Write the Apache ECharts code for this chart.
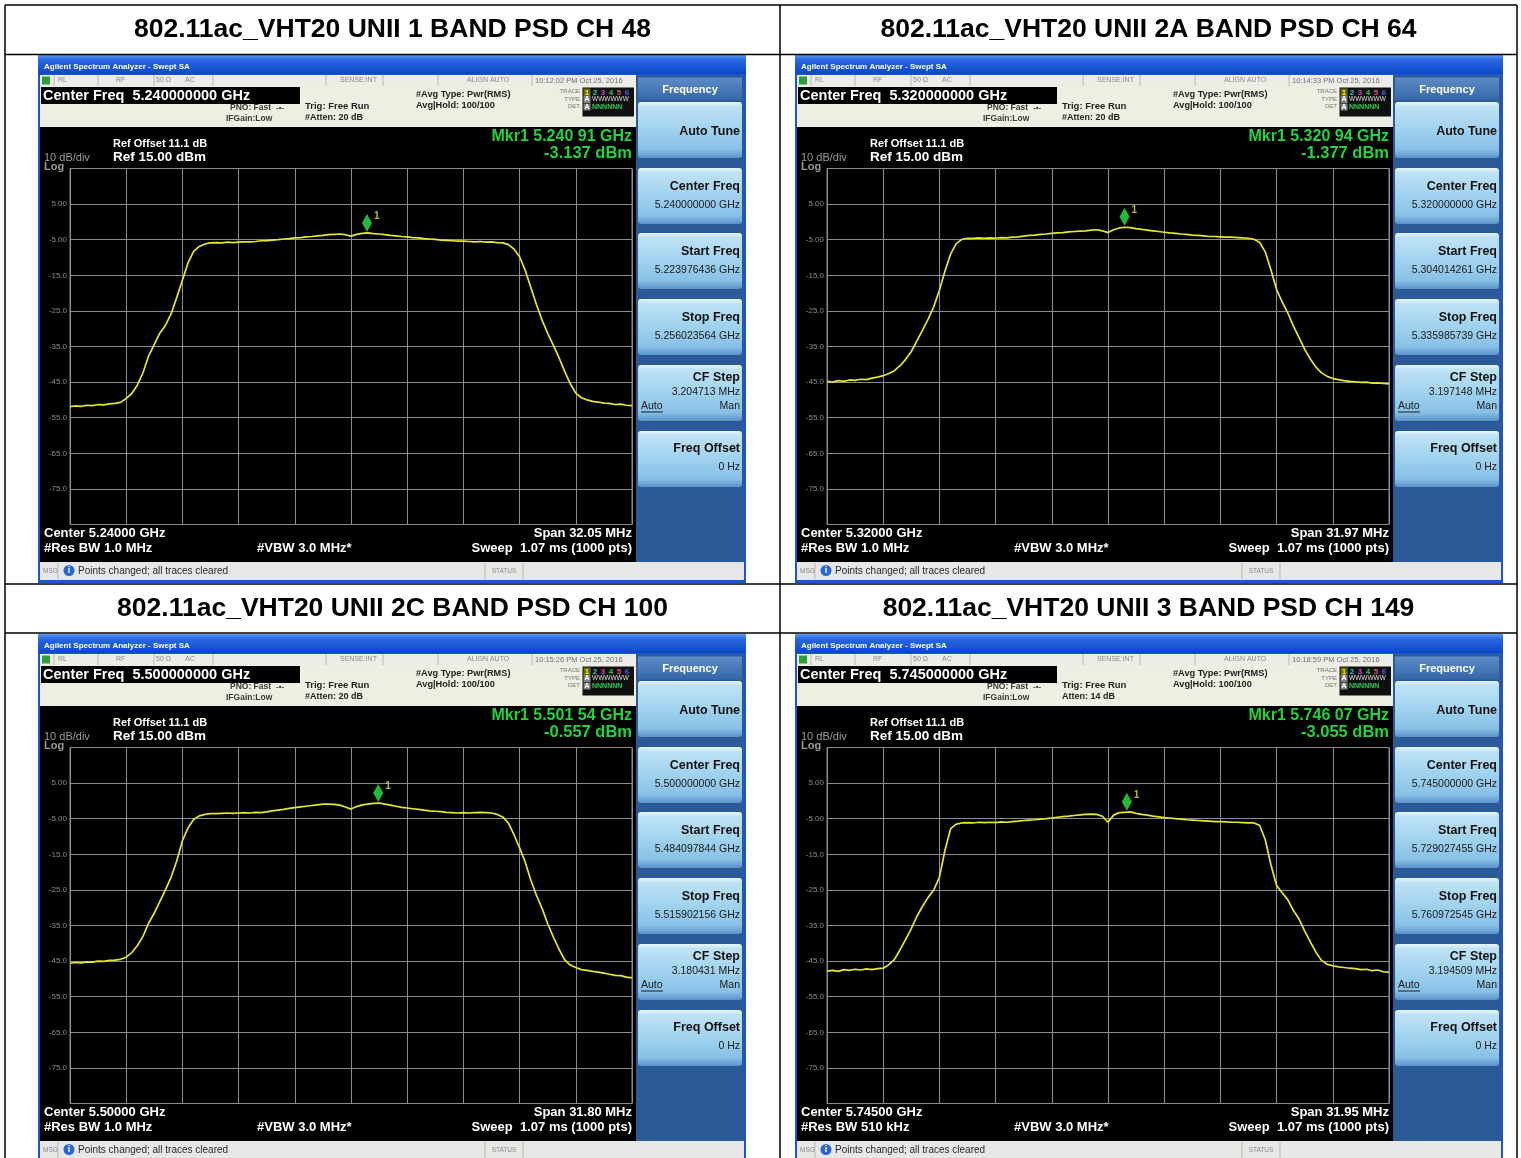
<!DOCTYPE html>
<html>
<head>
<meta charset="utf-8">
<title>802.11ac VHT20 PSD</title>
<script src="https://cdn.jsdelivr.net/npm/echarts@6/dist/echarts.min.js"></script>
<style>
  html, body { margin: 0; padding: 0; background: #ffffff; }
  #chart { width: 1521px; height: 1158px; }
</style>
</head>
<body>
<div id="chart"></div>
<script>
// 表格标题
var chartTitles = [
    '802.11ac_VHT20 UNII 1 BAND PSD CH 48',
    '802.11ac_VHT20 UNII 2A BAND PSD CH 64',
    '802.11ac_VHT20 UNII 2C BAND PSD CH 100',
    '802.11ac_VHT20 UNII 3 BAND PSD CH 149'
];
// 频谱仪设置
var centerFreq = ['5.240000000', '5.320000000', '5.500000000', '5.745000000'];
var startFreq = [5.223976436, 5.304014261, 5.484097844, 5.729027455];
var stopFreq = [5.256023564, 5.335985739, 5.515902156, 5.760972545];
var cfStep = ['3.204713 MHz', '3.197148 MHz', '3.180431 MHz', '3.194509 MHz'];
var spanText = ['32.05 MHz', '31.97 MHz', '31.80 MHz', '31.95 MHz'];
var resBw = ['1.0 MHz', '1.0 MHz', '1.0 MHz', '510 kHz'];
var attenText = ['#Atten: 20 dB', '#Atten: 20 dB', '#Atten: 20 dB', 'Atten: 14 dB'];
var timeStamp = ['10:12:02 PM Oct 25, 2016', '10:14:33 PM Oct 25, 2016', '10:15:26 PM Oct 25, 2016', '10:18:59 PM Oct 25, 2016'];
// Mkr1
var mkrFreq = [5.24091, 5.32094, 5.50154, 5.74607];
var mkrLevel = [-3.137, -1.377, -0.557, -3.055];
// 纵轴：Ref 15 dBm，10 dB/div
var refLevel = 15;
var dbPerDiv = 10;
var yDivs = 10;

// 迹线（从左到右等间隔 101 点，dBm）
var traceCh48 = [
    -51.9, -51.7, -51.8, -51.5, -51.6, -51.3, -51.4, -51.1, -51.0, -50.7,
    -49.6, -48.2, -45.8, -42.3, -37.6, -34.4, -31.2, -29.0, -25.8, -21.2,
    -16.4, -11.5, -8.3, -6.9, -6.2, -5.9, -5.8, -5.9, -5.7, -5.8,
    -5.7, -5.6, -5.6, -5.5, -5.3, -5.3, -5.1, -5.0, -4.8, -4.7,
    -4.5, -4.4, -4.2, -4.1, -3.9, -3.8, -3.6, -3.5, -3.4, -3.6,
    -4.0, -3.5, -3.2, -3.1, -3.3, -3.4, -3.6, -3.8, -3.9, -4.1,
    -4.2, -4.4, -4.5, -4.7, -4.8, -4.9, -5.1, -5.2, -5.3, -5.4,
    -5.4, -5.5, -5.6, -5.5, -5.7, -5.6, -5.8, -5.9, -6.4, -7.6,
    -9.8, -13.6, -18.4, -23.2, -27.6, -31.3, -34.6, -38.1, -41.9, -45.4,
    -48.1, -49.4, -50.0, -50.4, -50.6, -50.9, -51.0, -51.3, -51.2, -51.5, -51.6
];
var traceCh64 = [
    -44.8, -45.0, -44.6, -44.8, -44.4, -44.5, -44.2, -44.3, -43.9, -43.6,
    -43.2, -42.6, -41.8, -40.4, -38.6, -36.4, -33.4, -30.4, -27.3, -23.8,
    -19.2, -13.8, -9.0, -6.1, -4.9, -4.6, -4.6, -4.5, -4.6, -4.5,
    -4.6, -4.4, -4.5, -4.3, -4.2, -4.0, -3.8, -3.7, -3.5, -3.4,
    -3.2, -3.1, -3.0, -2.8, -2.7, -2.6, -2.5, -2.3, -2.2, -2.5,
    -3.0, -2.2, -1.7, -1.5, -1.6, -1.9, -2.1, -2.3, -2.5, -2.7,
    -2.9, -3.1, -3.2, -3.4, -3.5, -3.7, -3.8, -3.9, -4.1, -4.1,
    -4.2, -4.3, -4.3, -4.4, -4.5, -4.6, -4.9, -5.8, -8.5, -13.5,
    -19.0, -22.5, -25.6, -29.3, -32.5, -35.8, -38.5, -40.8, -42.4, -43.4,
    -44.0, -44.3, -44.6, -44.8, -44.9, -45.1, -45.0, -45.3, -45.2, -45.4, -45.5
];
var traceCh100 = [
    -45.6, -45.4, -45.5, -45.2, -45.3, -45.0, -45.1, -44.8, -44.7, -44.5,
    -43.9, -42.6, -40.6, -38.0, -34.3, -31.5, -28.2, -24.9, -21.4, -16.8,
    -11.2, -7.6, -5.2, -4.2, -3.8, -3.6, -3.6, -3.5, -3.4, -3.5,
    -3.4, -3.3, -3.4, -3.2, -3.3, -3.1, -2.8, -2.6, -2.4, -2.1,
    -1.9, -1.7, -1.5, -1.3, -1.1, -0.9, -0.9, -1.0, -1.2, -1.7,
    -2.3, -1.6, -1.1, -0.9, -0.7, -0.6, -0.9, -1.2, -1.5, -1.8,
    -2.0, -2.2, -2.4, -2.6, -2.8, -2.9, -3.0, -3.2, -3.3, -3.4,
    -3.3, -3.4, -3.3, -3.2, -3.3, -3.4, -3.8, -4.5, -6.2, -9.5,
    -13.2, -17.2, -22.3, -26.5, -30.2, -34.5, -38.2, -41.6, -44.6, -46.1,
    -46.8, -47.4, -47.6, -47.9, -48.1, -48.4, -48.7, -49.0, -49.1, -49.5, -49.7
];
var traceCh149 = [
    -47.8, -47.6, -47.9, -47.4, -47.6, -47.3, -47.5, -47.2, -47.4, -47.1,
    -47.0, -46.0, -44.5, -41.8, -38.9, -35.9, -32.4, -29.6, -27.1, -25.0,
    -21.5, -13.8, -7.8, -6.5, -6.2, -6.1, -6.2, -6.0, -6.1, -6.0,
    -6.1, -5.9, -6.0, -5.8, -5.7, -5.5, -5.4, -5.3, -5.1, -5.0,
    -4.8, -4.6, -4.4, -4.3, -4.1, -3.9, -3.8, -3.7, -3.8, -4.3,
    -6.0, -4.0, -3.3, -3.2, -3.1, -3.5, -3.8, -4.0, -4.3, -4.5,
    -4.7, -4.8, -5.0, -5.1, -5.3, -5.4, -5.5, -5.6, -5.7, -5.8,
    -5.8, -5.9, -6.0, -6.0, -6.1, -6.2, -6.2, -6.9, -11.0, -18.0,
    -23.8, -25.8, -27.8, -30.8, -33.2, -36.6, -39.6, -42.5, -44.8, -45.9,
    -46.3, -46.6, -46.8, -47.0, -47.1, -47.4, -47.3, -47.7, -47.5, -48.0, -48.1
];
var traces = [traceCh48, traceCh64, traceCh100, traceCh149];

// 每个截图左上角位置
var origins = [[38, 55], [795, 55], [38, 634], [795, 634]];
var F = "Arial, 'Liberation Sans', sans-serif";

window.onload = function () {
    var chart = echarts.init(document.getElementById('chart'));
    chart.setOption(buildOption());
};

function box(x, y, w, h, fill, z, r) {
    return { type: 'rect', silent: true, z: z || 0,
        shape: { x: x, y: y, width: w, height: h, r: r || 0 }, style: { fill: fill } };
}
function label(x, y, s, font, fill, align) {
    return { type: 'text', silent: true, z: 20, x: x, y: y,
        style: { text: s, font: font + ' ' + F, fill: fill,
            align: align || 'left', verticalAlign: 'middle',
            textAlign: align || 'left', textVerticalAlign: 'middle' } };
}
function seg(x1, y1, x2, y2, color, w, z) {
    return { type: 'line', silent: true, z: z || 15,
        shape: { x1: x1, y1: y1, x2: x2, y2: y2 }, style: { stroke: color, lineWidth: w || 1 } };
}
function vgrad(stops) {
    return { type: 'linear', x: 0, y: 0, x2: 0, y2: 1,
        colorStops: stops.map(function (s) { return { offset: s[0], color: s[1] }; }) };
}

// 一个频谱仪截图的外观
function screenElements(i, ox, oy) {
    var el = [];
    function R(x, y, w, h, fill, z, r) { el.push(box(ox + x, oy + y, w, h, fill, z, r)); }
    function T(x, y, s, font, fill, align) { el.push(label(ox + x, oy + y, s, font, fill, align)); }
    function L(x1, y1, x2, y2, c, w) { el.push(seg(ox + x1, oy + y1, ox + x2, oy + y2, c, w)); }

    // 窗口外框和标题栏
    R(0, 0, 708, 528, '#1b55d2', 0);
    R(0, 0, 708, 19, vgrad([[0, '#5a98f2'], [0.25, '#2a68e2'], [1, '#0b47c6']]), 1);
    T(6, 11.5, 'Agilent Spectrum Analyzer - Swept SA', 'bold 8px', '#ffffff');

    // 状态行
    R(2, 20, 596, 11, '#edece6', 1);
    R(4, 21.5, 8, 8, '#2e9e38', 2);
    [16, 60, 116, 175, 288, 345, 400, 494].forEach(function (x) { L(x, 20, x, 31, '#b9b8b0', 1); });
    T(20, 25.5, 'RL', '7px', '#8a8a8a');
    T(78, 25.5, 'RF', '7px', '#8a8a8a');
    T(118, 25.5, '50 Ω', '7px', '#8a8a8a');
    T(147, 25.5, 'AC', '7px', '#8a8a8a');
    T(302, 25.5, 'SENSE:INT', '7px', '#8a8a8a');
    T(429, 25.5, 'ALIGN AUTO', '7px', '#8a8a8a');
    T(497, 25.5, timeStamp[i], '7.5px', '#707070');

    // 设置信息区
    R(2, 31, 596, 41, '#efeee3', 1);
    R(3, 32, 259, 17, '#000000', 2);
    T(5, 40.8, 'Center Freq  ' + centerFreq[i] + ' GHz', 'bold 14.5px', '#ffffff');
    T(192, 53, 'PNO: Fast', 'bold 8.5px', '#3a3a3a');
    T(238, 53, '-•-', 'bold 8px', '#3a3a3a');
    T(188, 63.5, 'IFGain:Low', 'bold 8.5px', '#3a3a3a');
    T(267, 51.5, 'Trig: Free Run', 'bold 9.5px', '#222222');
    T(267, 62.5, attenText[i], 'bold 9px', '#222222');
    T(378, 39.5, '#Avg Type: Pwr(RMS)', 'bold 9.2px', '#222222');
    T(378, 50, 'Avg|Hold: 100/100', 'bold 9.2px', '#222222');
    T(542, 36.5, 'TRACE', '6px', '#777777', 'right');
    T(542, 44, 'TYPE', '6px', '#777777', 'right');
    T(542, 51.5, 'DET', '6px', '#777777', 'right');
    R(544.5, 32.5, 51.5, 29, '#101010', 2);
    R(545.5, 33.5, 7, 7.5, '#6a6a10', 3);
    ['#e8e820', '#20c8e8', '#d040d0', '#30c850', '#e0507a', '#4a5cff'].forEach(function (c, k) {
        T(549 + k * 8, 37.5, String(k + 1), 'bold 8px', c, 'center');
    });
    R(545.5, 41, 7, 7, '#808080', 3);
    T(549, 44.5, 'A', 'bold 7px', '#ffffff', 'center');
    T(554, 44.5, 'WWWWWW', '6.5px', '#dddddd');
    R(545.5, 48.5, 7, 7, '#808080', 3);
    T(549, 52, 'A', 'bold 7px', '#ffffff', 'center');
    T(554, 52, 'NNNNNN', 'bold 7px', '#30c850');

    // 测量显示区
    R(2, 72, 596, 435, '#000000', 1);
    T(75, 89, 'Ref Offset 11.1 dB', 'bold 11px', '#ffffff');
    T(75, 102, 'Ref ' + refLevel.toFixed(2) + ' dBm', 'bold 13.5px', '#ffffff');
    T(6, 102.5, dbPerDiv + ' dB/div', '11px', '#9a9a9a');
    T(6, 111.5, 'Log', 'bold 11px', '#9a9a9a');
    var mf = mkrFreq[i].toFixed(5);
    T(594, 82, 'Mkr1 ' + mf.slice(0, 5) + ' ' + mf.slice(5) + ' GHz', 'bold 16px', '#22d43c', 'right');
    T(594, 98, mkrLevel[i].toFixed(3) + ' dBm', 'bold 16.5px', '#22d43c', 'right');
    T(6, 478, 'Center ' + parseFloat(centerFreq[i]).toFixed(5) + ' GHz', 'bold 13px', '#ffffff');
    T(6, 493, '#Res BW ' + resBw[i], 'bold 13px', '#ffffff');
    T(219, 493, '#VBW 3.0 MHz*', 'bold 13px', '#ffffff');
    T(594, 478, 'Span ' + spanText[i], 'bold 13px', '#ffffff', 'right');
    T(594, 493, 'Sweep  1.07 ms (1000 pts)', 'bold 13px', '#ffffff', 'right');

    // 软键区
    R(598, 20, 108, 487, '#2b5a99', 1);
    R(600, 22.5, 104, 23, vgrad([[0, '#5d8cc8'], [1, '#3466a8']]), 2);
    T(652, 34.5, 'Frequency', 'bold 11px', '#ffffff', 'center');
    var keyFill = vgrad([[0, '#e8f6fd'], [0.08, '#bfe2f5'], [0.5, '#a0d2ef'], [0.85, '#88c0e6'], [1, '#5a93c8']]);
    var tops = [47, 113, 178, 244, 310, 376];
    tops.forEach(function (t) { R(600, t, 104, 56, keyFill, 2, 3); });
    T(702, tops[0] + 30, 'Auto Tune', 'bold 12.5px', '#111111', 'right');
    T(702, tops[1] + 19, 'Center Freq', 'bold 12.5px', '#111111', 'right');
    T(702, tops[1] + 37, centerFreq[i] + ' GHz', '10.5px', '#1a1a1a', 'right');
    T(702, tops[2] + 19, 'Start Freq', 'bold 12.5px', '#111111', 'right');
    T(702, tops[2] + 37, startFreq[i].toFixed(9) + ' GHz', '10.5px', '#1a1a1a', 'right');
    T(702, tops[3] + 19, 'Stop Freq', 'bold 12.5px', '#111111', 'right');
    T(702, tops[3] + 37, stopFreq[i].toFixed(9) + ' GHz', '10.5px', '#1a1a1a', 'right');
    T(702, tops[4] + 13, 'CF Step', 'bold 12.5px', '#111111', 'right');
    T(702, tops[4] + 27, cfStep[i], '10.5px', '#1a1a1a', 'right');
    T(603, tops[4] + 41, 'Auto', '10.5px', '#1a1a1a');
    L(603, tops[4] + 47, 625, tops[4] + 47, '#1a1a1a', 1);
    T(702, tops[4] + 41, 'Man', '10.5px', '#1a1a1a', 'right');
    T(702, tops[5] + 18, 'Freq Offset', 'bold 12.5px', '#111111', 'right');
    T(702, tops[5] + 36, '0 Hz', '10.5px', '#1a1a1a', 'right');

    // 底部消息栏
    R(2, 507, 704, 18, '#e7e7e5', 1);
    [20, 447, 485].forEach(function (x) { L(x, 508, x, 524, '#b9b8b0', 1); });
    T(5, 516, 'MSG', '6.5px', '#888888');
    el.push({ type: 'circle', silent: true, z: 3, shape: { cx: ox + 31, cy: oy + 515.5, r: 5.5 }, style: { fill: '#2a66d0' } });
    T(31, 515.5, 'i', 'bold 9px', '#ffffff', 'center');
    T(40, 516, 'Points changed; all traces cleared', '10px', '#2a2a2a');
    T(466, 516, 'STATUS', '6.5px', '#888888', 'center');
    return el;
}

function buildOption() {
    var elements = [];
    // 表格线
    var lines = [[5, 5, 1517, 5], [5, 54.5, 1517, 54.5], [5, 584, 1517, 584], [5, 633, 1517, 633],
        [5, 5, 5, 1158], [780, 5, 780, 1158], [1517, 5, 1517, 1158]];
    lines.forEach(function (l) { elements.push(seg(l[0], l[1], l[2], l[3], '#000000', 1.5, 30)); });
    var titlePos = [[392.5, 30], [1148.5, 30], [392.5, 609], [1148.5, 609]];
    chartTitles.forEach(function (t, i) {
        elements.push(label(titlePos[i][0], titlePos[i][1], t, 'bold 26.5px', '#000000', 'center'));
    });

    var grids = [], xAxes = [], yAxes = [], series = [];
    var yMin = refLevel - dbPerDiv * yDivs;
    origins.forEach(function (o, i) {
        elements = elements.concat(screenElements(i, o[0], o[1]));
        var n = traces[i].length - 1;
        grids.push({ left: o[0] + 32, top: o[1] + 113.5, width: 562, height: 356,
            show: true, borderColor: '#8c8c8c', borderWidth: 1, backgroundColor: 'transparent', z: 5 });
        xAxes.push({ gridIndex: i, type: 'value', min: 0, max: n, interval: n / 10, z: 5,
            axisLine: { show: false }, axisTick: { show: false }, axisLabel: { show: false },
            splitLine: { show: true, lineStyle: { color: '#8c8c8c', width: 1 } } });
        yAxes.push({ gridIndex: i, type: 'value', min: yMin, max: refLevel, interval: dbPerDiv, z: 5,
            axisLine: { show: false }, axisTick: { show: false },
            axisLabel: { show: true, fontSize: 8, color: '#8a8a8a', margin: 3, fontFamily: F,
                formatter: function (v) {
                    if (v >= refLevel || v <= yMin) return '';
                    return Math.abs(v) < 10 ? v.toFixed(2) : v.toFixed(1);
                } },
            splitLine: { show: true, lineStyle: { color: '#8c8c8c', width: 1 } } });
        series.push({ type: 'line', xAxisIndex: i, yAxisIndex: i, z: 6, animation: false,
            showSymbol: false, silent: true,
            lineStyle: { color: '#e6e62c', width: 1.7 },
            data: traces[i].map(function (v, k) { return [k, v]; }) });
        var mIdx = (mkrFreq[i] - startFreq[i]) / (stopFreq[i] - startFreq[i]) * n;
        series.push({ type: 'scatter', xAxisIndex: i, yAxisIndex: i, z: 7, animation: false, silent: true,
            symbol: 'diamond', symbolSize: [10, 18], symbolOffset: [0, -10],
            itemStyle: { color: '#2ae846' },
            label: { show: true, formatter: '1', position: [12, -3], color: '#e6e62c',
                fontSize: 10, fontWeight: 'bold', fontFamily: F },
            data: [[mIdx, mkrLevel[i]]] });
    });

    return {
        backgroundColor: '#ffffff',
        animation: false,
        graphic: { elements: elements },
        grid: grids,
        xAxis: xAxes,
        yAxis: yAxes,
        series: series
    };
}
</script>
</body>
</html>
